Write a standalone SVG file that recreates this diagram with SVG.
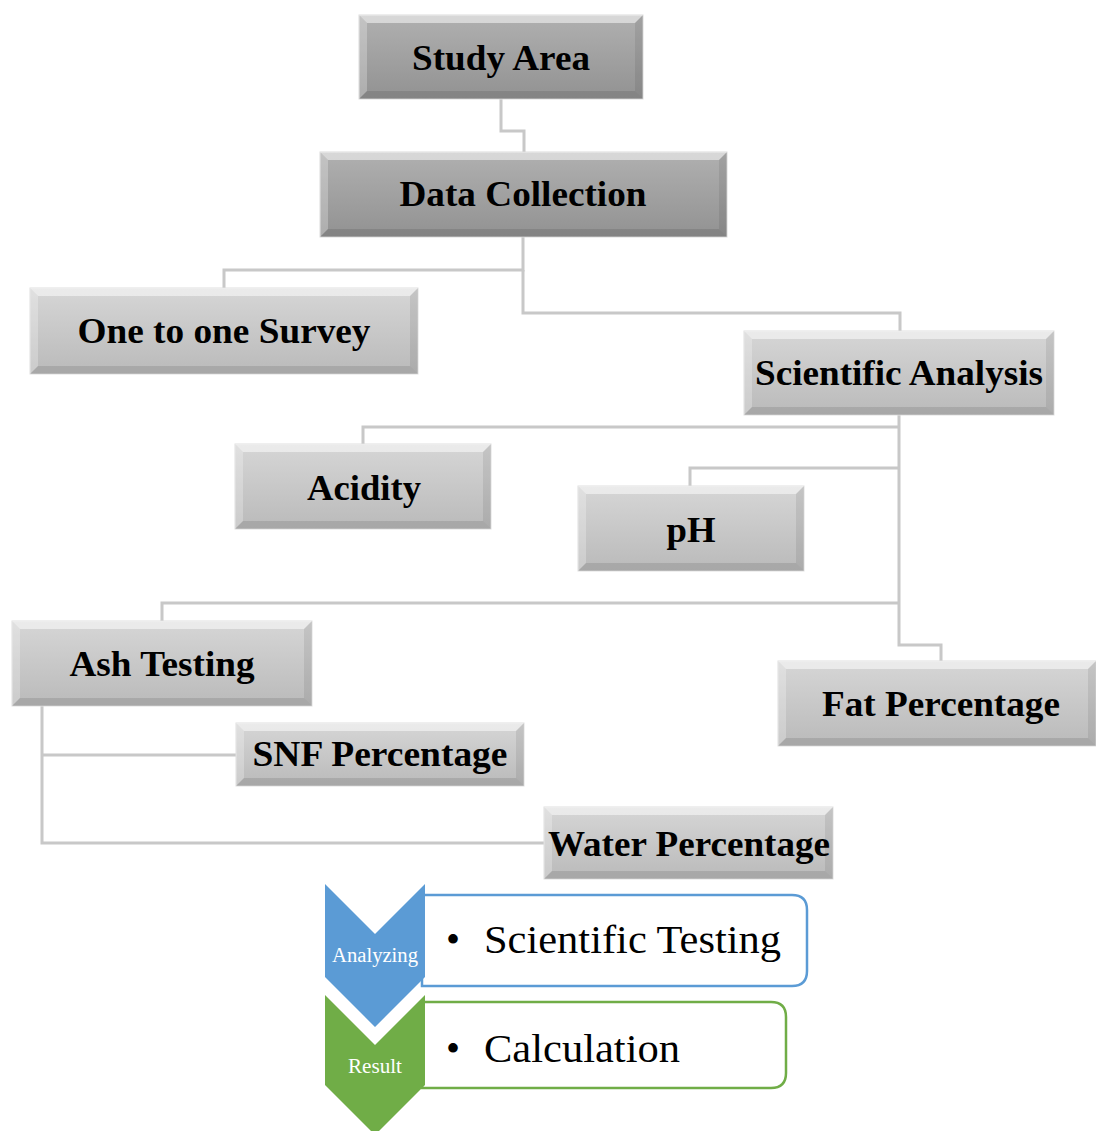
<svg xmlns="http://www.w3.org/2000/svg" width="1096" height="1131" viewBox="0 0 1096 1131">
<defs>
<linearGradient id="gDark" x1="0" y1="0" x2="0" y2="1">
<stop offset="0" stop-color="#b0b0b0"/><stop offset="1" stop-color="#929292"/>
</linearGradient>
<linearGradient id="gLight" x1="0" y1="0" x2="0" y2="1">
<stop offset="0" stop-color="#d6d6d6"/><stop offset="1" stop-color="#bababa"/>
</linearGradient>
</defs>
<style>
.dark{fill:url(#gDark);stroke:#dcdcdc;stroke-width:1}
.light{fill:url(#gLight);stroke:#e0e0e0;stroke-width:1}
.bt{fill:#ffffff;fill-opacity:0.5}
.bl{fill:#ffffff;fill-opacity:0.25}
.br{fill:#000000;fill-opacity:0.08}
.bb{fill:#000000;fill-opacity:0.1}
.lbl{font-family:"Liberation Serif","Tinos","Noto Serif","DejaVu Serif",serif;font-weight:bold;font-size:36px;fill:#000;text-anchor:middle}
.conn{fill:none;stroke:#c8c8c8;stroke-width:3}
.chev{font-family:"Liberation Serif","Tinos","Noto Serif","DejaVu Serif",serif;font-size:20px;fill:#fff;text-anchor:middle}
.big{font-family:"Liberation Serif","Tinos","Noto Serif","DejaVu Serif",serif;font-size:40px;fill:#000}
</style>
<g id="connectors">
<path class="conn" d="M501,99 V131 H524 V152"/>
<path class="conn" d="M523,237 V270 H224 V288"/>
<path class="conn" d="M523,270 V313 H900 V331"/>
<path class="conn" d="M899,415 V645 H941 V661"/>
<path class="conn" d="M899,427 H363 V444"/>
<path class="conn" d="M899,468 H690 V486"/>
<path class="conn" d="M899,603 H162 V621"/>
<path class="conn" d="M42,706 V843 H544"/>
<path class="conn" d="M42,755 H236"/>
</g>
<g id="study-area">
<rect class="dark" x="359" y="15" width="284" height="84"/>
<polygon class="bt" points="359,15 643,15 635,23 367,23"/>
<polygon class="bl" points="359,15 367,23 367,91 359,99"/>
<polygon class="br" points="643,15 643,99 635,91 635,23"/>
<polygon class="bb" points="359,99 643,99 635,91 367,91"/>
<text class="lbl" x="501" y="70" textLength="178" lengthAdjust="spacingAndGlyphs">Study Area</text>
</g>
<g id="data-collection">
<rect class="dark" x="320" y="152" width="407" height="85"/>
<polygon class="bt" points="320,152 727,152 719,160 328,160"/>
<polygon class="bl" points="320,152 328,160 328,229 320,237"/>
<polygon class="br" points="727,152 727,237 719,229 719,160"/>
<polygon class="bb" points="320,237 727,237 719,229 328,229"/>
<text class="lbl" x="523" y="206" textLength="247" lengthAdjust="spacingAndGlyphs">Data Collection</text>
</g>
<g id="one-to-one-survey">
<rect class="light" x="30" y="288" width="388" height="86"/>
<polygon class="bt" points="30,288 418,288 410,296 38,296"/>
<polygon class="bl" points="30,288 38,296 38,366 30,374"/>
<polygon class="br" points="418,288 418,374 410,366 410,296"/>
<polygon class="bb" points="30,374 418,374 410,366 38,366"/>
<text class="lbl" x="224" y="343" textLength="293" lengthAdjust="spacingAndGlyphs">One to one Survey</text>
</g>
<g id="scientific-analysis">
<rect class="light" x="744" y="331" width="310" height="84"/>
<polygon class="bt" points="744,331 1054,331 1046,339 752,339"/>
<polygon class="bl" points="744,331 752,339 752,407 744,415"/>
<polygon class="br" points="1054,331 1054,415 1046,407 1046,339"/>
<polygon class="bb" points="744,415 1054,415 1046,407 752,407"/>
<text class="lbl" x="899" y="385" textLength="288" lengthAdjust="spacingAndGlyphs">Scientific Analysis</text>
</g>
<g id="acidity">
<rect class="light" x="235" y="444" width="256" height="85"/>
<polygon class="bt" points="235,444 491,444 483,452 243,452"/>
<polygon class="bl" points="235,444 243,452 243,521 235,529"/>
<polygon class="br" points="491,444 491,529 483,521 483,452"/>
<polygon class="bb" points="235,529 491,529 483,521 243,521"/>
<text class="lbl" x="364" y="500" textLength="114" lengthAdjust="spacingAndGlyphs">Acidity</text>
</g>
<g id="ph">
<rect class="light" x="578" y="486" width="226" height="85"/>
<polygon class="bt" points="578,486 804,486 796,494 586,494"/>
<polygon class="bl" points="578,486 586,494 586,563 578,571"/>
<polygon class="br" points="804,486 804,571 796,563 796,494"/>
<polygon class="bb" points="578,571 804,571 796,563 586,563"/>
<text class="lbl" x="691" y="542" textLength="49" lengthAdjust="spacingAndGlyphs">pH</text>
</g>
<g id="ash-testing">
<rect class="light" x="12" y="621" width="300" height="85"/>
<polygon class="bt" points="12,621 312,621 304,629 20,629"/>
<polygon class="bl" points="12,621 20,629 20,698 12,706"/>
<polygon class="br" points="312,621 312,706 304,698 304,629"/>
<polygon class="bb" points="12,706 312,706 304,698 20,698"/>
<text class="lbl" x="162" y="676" textLength="185" lengthAdjust="spacingAndGlyphs">Ash Testing</text>
</g>
<g id="fat-percentage">
<rect class="light" x="778" y="661" width="318" height="85"/>
<polygon class="bt" points="778,661 1096,661 1088,669 786,669"/>
<polygon class="bl" points="778,661 786,669 786,738 778,746"/>
<polygon class="br" points="1096,661 1096,746 1088,738 1088,669"/>
<polygon class="bb" points="778,746 1096,746 1088,738 786,738"/>
<text class="lbl" x="941" y="716" textLength="238" lengthAdjust="spacingAndGlyphs">Fat Percentage</text>
</g>
<g id="snf-percentage">
<rect class="light" x="236" y="723" width="288" height="63"/>
<polygon class="bt" points="236,723 524,723 516,731 244,731"/>
<polygon class="bl" points="236,723 244,731 244,778 236,786"/>
<polygon class="br" points="524,723 524,786 516,778 516,731"/>
<polygon class="bb" points="236,786 524,786 516,778 244,778"/>
<text class="lbl" x="380" y="766" textLength="255" lengthAdjust="spacingAndGlyphs">SNF Percentage</text>
</g>
<g id="water-percentage">
<rect class="light" x="544" y="807" width="289" height="72"/>
<polygon class="bt" points="544,807 833,807 825,815 552,815"/>
<polygon class="bl" points="544,807 552,815 552,871 544,879"/>
<polygon class="br" points="833,807 833,879 825,871 825,815"/>
<polygon class="bb" points="544,879 833,879 825,871 552,871"/>
<text class="lbl" x="689" y="856" textLength="282" lengthAdjust="spacingAndGlyphs">Water Percentage</text>
</g>
<g id="analyzing">
<path d="M422,895 H792 Q807,895 807,910 V971 Q807,986 792,986 H422 Z" fill="#fff" stroke="#5b9bd5" stroke-width="2.5"/>
<polygon points="325,884 375,934 425,884 425,977 375,1027 325,977" fill="#5b9bd5"/>
<text class="chev" x="375" y="962" textLength="86" lengthAdjust="spacingAndGlyphs">Analyzing</text>
<text class="big" x="446" y="953">•</text>
<text class="big" x="484" y="953" textLength="297" lengthAdjust="spacingAndGlyphs">Scientific Testing</text>
</g>
<g id="result">
<path d="M422,1002 H771 Q786,1002 786,1017 V1073 Q786,1088 771,1088 H422 Z" fill="#fff" stroke="#70ad47" stroke-width="2.5"/>
<polygon points="325,995 375,1045 425,995 425,1085 375,1135 325,1085" fill="#70ad47"/>
<text class="chev" x="375" y="1073" textLength="54" lengthAdjust="spacingAndGlyphs">Result</text>
<text class="big" x="446" y="1062">•</text>
<text class="big" x="484" y="1062" textLength="196" lengthAdjust="spacingAndGlyphs">Calculation</text>
</g>
</svg>
